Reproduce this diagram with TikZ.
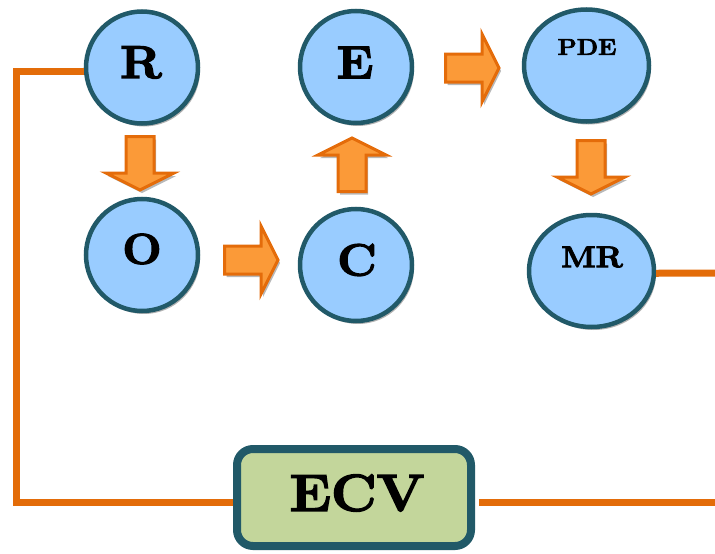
\documentclass[tikz,border=0pt]{standalone}
\usepackage{fontspec}
\setmainfont{Latin Modern Roman}[BoldFeatures={FakeBold=3,FakeStretch=1.08}]
\usetikzlibrary{shapes.geometric,shadows}
\definecolor{bordc}{HTML}{215968}
\definecolor{bluef}{HTML}{99CCFF}
\definecolor{greenf}{HTML}{C3D69B}
\definecolor{orangeL}{HTML}{FB9A38}
\definecolor{orangeD}{HTML}{E46C0A}
\definecolor{wirec}{HTML}{E36C09}
\newcommand{\BArrow}[3]{%
  \pic[rotate=#3] at (#1+2,#2+3) {barrowsh};
  \pic[rotate=#3] at (#1,#2) {barrow};}
\begin{document}
\begin{tikzpicture}[x=1pt,y=-1pt,
  shd/.style={drop shadow={shadow xshift=2pt,shadow yshift=-3pt,opacity=0.3,fill=black}},
  bub/.style={circle, draw=bordc, line width=4.5pt, fill=bluef, minimum size=112pt, inner sep=0pt, shd},
  ell/.style={ellipse, draw=bordc, line width=4.5pt, fill=bluef, minimum width=125pt, minimum height=112pt, inner sep=0pt, shd},
  lbl/.style={inner sep=0pt, text=black, font=\bfseries\fontsize{#1}{#1}\selectfont},
  wire/.style={draw=wirec, line width=7pt},
  ecvbox/.style={rectangle, rounded corners=16pt, draw=bordc, line width=8pt, fill=greenf, minimum width=234pt, minimum height=97pt, inner sep=0pt, shd},
  barrowsh/.pic={\fill[black,opacity=0.28] (1.5,-14) -- (38,-14) -- (38,-34) -- (55,0) -- (38,34) -- (38,14) -- (1.5,14) -- cycle;},
  barrow/.pic={\draw[draw=orangeD, fill=orangeL, line width=3pt, line join=miter] (1.5,-14) -- (38,-14) -- (38,-34) -- (55,0) -- (38,34) -- (38,14) -- (1.5,14) -- cycle;},
]
\useasboundingbox (0,0) rectangle (715,554);

% bubbles
\node[bub] (R) at (142,67.5) {};
\node[bub] (O) at (142,255) {};
\node[bub] (C) at (356,265) {};
\node[bub] (E) at (356,67) {};
\node[ell] (PDE) at (586.5,65.5) {};
\node[ell] (MR) at (591.5,271) {};
\node[ecvbox] (ECV) at (354,497.5) {};

% labels
\node[lbl=46] (tR) at (141,62.5) {R};
\node[lbl=43] (tO) at (142,249) {O};
\node[lbl=45] (tC) at (357,260) {C};
\node[lbl=46] (tE) at (355,62.5) {E};
\node[lbl=23] (tPDE) at (587,47) {PDE};
\node[lbl=30] (tMR) at (592,257) {MR};
\node[lbl=52] (tECV) at (357,493) {ECV};

% block arrows
\BArrow{140}{135}{-90}
\BArrow{223}{260}{0}
\BArrow{352}{193}{90}
\BArrow{444}{68}{0}
\BArrow{591}{139}{-90}

% wires
\coordinate (cL) at (16,502);
\coordinate (cR) at (715,502);
\coordinate (cM) at (715,273);
\draw[wire] (R.184) -| (cL) -- (ECV.west |- cL);
\draw[wire] ([xshift=4pt]ECV.east |- cR) -- (cR);
\draw[wire] (MR.358) -- (cM);
\end{tikzpicture}
\end{document}
